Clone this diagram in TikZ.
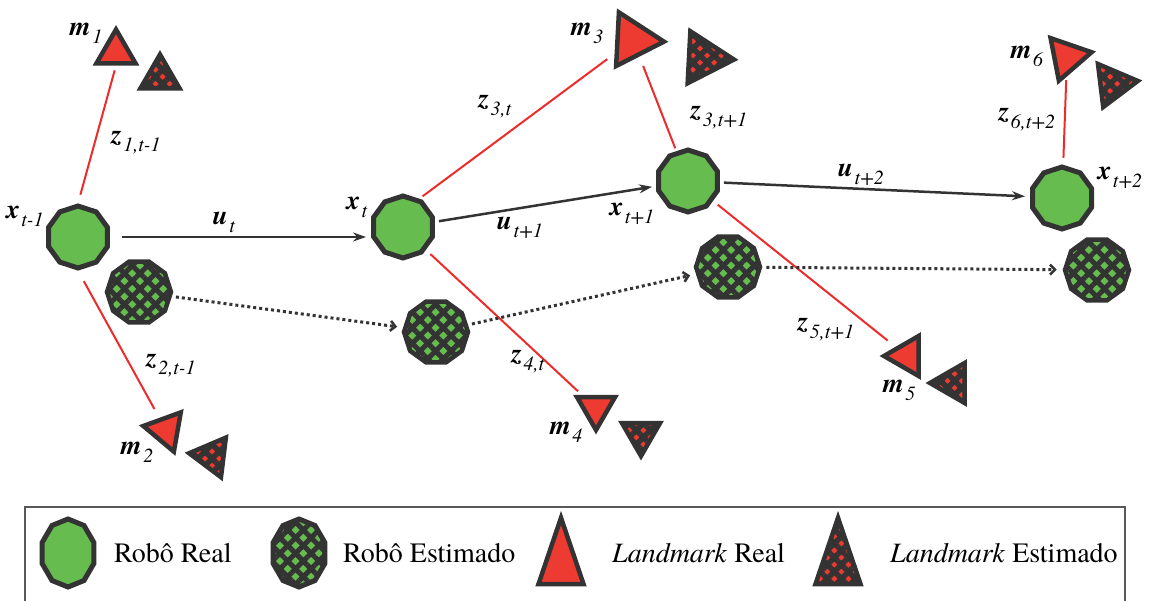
\documentclass[tikz,border=0pt]{standalone}
\usepackage{fontspec}
\setmainfont{texgyretermes}[Extension=.otf, UprightFont=*-regular, BoldFont=*-bold, ItalicFont=*-italic, BoldItalicFont=*-bolditalic]
\usetikzlibrary{shapes.geometric,arrows.meta,patterns.meta}
\definecolor{grn}{HTML}{67BC50}
\definecolor{rd}{HTML}{EE3B31}
\definecolor{dk}{HTML}{333333}
\definecolor{ln}{HTML}{EE2B2B}
\newcommand{\sym}[2]{{\fontsize{27}{27}\selectfont\textbf{\textit{#1}}\kern1.5pt\raisebox{-0.3em}{\fontsize{20}{20}\selectfont\textit{#2}}}}
\tikzset{
 hatch/.style args={#1/#2}{postaction={pattern={Lines[angle=45,distance=#1,line width=#2]},pattern color=dk},
               postaction={pattern={Lines[angle=-45,distance=#1,line width=#2]},pattern color=dk}},
 robot/.style={regular polygon, regular polygon sides=10, shape border rotate=18, minimum size=62pt, inner sep=0pt, fill=grn, draw=dk, line width=5pt},
 estrobot/.style={regular polygon, regular polygon sides=10, minimum size=64pt, inner sep=0pt, fill=grn, draw=dk, line width=4.5pt, hatch=11pt/5pt},
 lmk/.style={regular polygon, regular polygon sides=3, minimum size=#1, inner sep=0pt, fill=rd, draw=dk, line width=4.5pt, line join=miter},
 estlmk/.style={lmk=#1, hatch=10pt/5.5pt},
 meas/.style={ln, line width=2pt},
 ctrl/.style={dk, line width=2.5pt, -{Stealth[length=13pt,width=9pt]}},
 est/.style={dk, line width=3pt, dash pattern=on 3pt off 3pt, -{Straight Barb[length=5pt,width=10pt,line width=2.5pt]}},
 lab/.style={inner sep=0pt},
 leg/.style={font=\fontsize{28}{28}\selectfont, anchor=west, inner sep=0pt}
}
\begin{document}
\begin{tikzpicture}[x=1pt,y=-1pt]
\useasboundingbox (0,0) rectangle (1150,600);

% robots
\node[robot] (R1) at (78,237) {};
\node[robot] (R2) at (403,227) {};
\node[robot] (R3) at (688,181) {};
\node[robot] (R4) at (1062,198) {};
\node[estrobot] (E1) at (139,292) {};
\node[estrobot] (E2) at (436,332) {};
\node[estrobot] (E3) at (728,267) {};
\node[estrobot] (E4) at (1097,270) {};

% landmarks
\node[lmk=45pt] (M1) at (116,52) {};
\node[estlmk=45pt] (M1e) at (160,77) {};
\node[lmk=46pt, shape border rotate=-160] (M2) at (166,430) {};
\node[estlmk=46pt, shape border rotate=-157] (M2e) at (212,456) {};
\node[lmk=62pt, shape border rotate=-93] (M3) at (633,40) {};
\node[estlmk=60pt, shape border rotate=-93] (M3e) at (704,58) {};
\node[lmk=44pt, shape border rotate=180] (M4) at (596,408) {};
\node[estlmk=44pt, shape border rotate=180] (M4e) at (641,434) {};
\node[lmk=46pt, shape border rotate=90] (M5) at (907,356) {};
\node[estlmk=46pt, shape border rotate=90] (M5e) at (953,383) {};
\node[lmk=50pt, shape border rotate=-199] (M6) at (1067,57) {};
\node[estlmk=50pt, shape border rotate=-203] (M6e) at (1113,84) {};

% measurements
\draw[meas, shorten <=9pt, shorten >=5pt] (R1.north) -- (M1.south);
\draw[meas, shorten <=12pt, shorten >=10pt] (R1.south) -- (M2);
\draw[meas, shorten <=4pt, shorten >=9pt] (R2.60) -- (M3);
\draw[meas, shorten <=3pt, shorten >=10pt] (R3) -- (M3);
\draw[meas, shorten <=6pt, shorten >=5pt] (R2.-45) -- (M4);
\draw[meas, shorten <=6pt, shorten >=10pt] (R3) -- (M5);
\draw[meas, shorten <=7pt, shorten >=3pt] (R4) -- (M6);

% controls
\draw[ctrl, shorten <=12pt, shorten >=5pt] (R1.east) -- (R1.east -| R2.west);
\draw[ctrl, shorten <=4pt, shorten >=4pt] (R2) -- (R3);
\draw[ctrl, shorten <=4pt, shorten >=5pt] (R3) -- (R4);

% estimates
\draw[est, shorten <=4pt, shorten >=6pt] (E1) -- (E2);
\draw[est, shorten <=4pt, shorten >=6pt] (E2) -- (E3);
\draw[est, shorten <=4pt, shorten >=6pt] (E3) -- (E4);

% labels
\node[lab] (lx1) at (25,216) {\sym{x}{t-1}};
\node[lab] (lx2) at (357,207) {\sym{x}{t}};
\node[lab] (lx3) at (632,214) {\sym{x}{t+1}};
\node[lab] (lx4) at (1120,178) {\sym{x}{t+2}};
\node[lab] (lu1) at (224,222) {\sym{u}{t}};
\node[lab] (lu2) at (520,228) {\sym{u}{t+1}};
\node[lab] (lu3) at (861,175) {\sym{u}{t+2}};
\node[lab] (lz1) at (136,143) {\sym{z}{1,t-1}};
\node[lab] (lz2) at (171,366) {\sym{z}{2,t-1}};
\node[lab] (lz3) at (495,107) {\sym{z}{3,t}};
\node[lab] (lz3b) at (719,118) {\sym{z}{3,t+1}};
\node[lab] (lz4) at (528,362) {\sym{z}{4,t}};
\node[lab] (lz5) at (826,330) {\sym{z}{5,t+1}};
\node[lab] (lz6) at (1027,120) {\sym{z}{6,t+2}};
\node[lab] (lm1) at (86,33) {\sym{m}{1}};
\node[lab] (lm2) at (137,452) {\sym{m}{2}};
\node[lab] (lm3) at (587,33) {\sym{m}{3}};
\node[lab] (lm4) at (566,432) {\sym{m}{4}};
\node[lab] (lm5) at (899,390) {\sym{m}{5}};
\node[lab] (lm6) at (1027,56) {\sym{m}{6}};

% legend
\draw[gray!70!black, line width=1.5pt] (25,507) rectangle (1125,606);
\node[robot, minimum size=68pt, xscale=0.8] (L1) at (68,553) {};
\node[leg] (T1) at (114,553) {Robô Real};
\node[robot, minimum size=68pt, xscale=0.8, hatch=11pt/5pt] (L2) at (299,553) {};
\node[leg] (T2) at (343,553) {Robô Estimado};
\node[lmk=52pt, yscale=1.7] (L3) at (561,562) {};
\node[leg] (T3) at (612,553) {\textit{Landmark} Real};
\node[estlmk=52pt, yscale=1.7] (L4) at (838,562) {};
\node[leg] (T4) at (890,553) {\textit{Landmark} Estimado};
\end{tikzpicture}
\end{document}
